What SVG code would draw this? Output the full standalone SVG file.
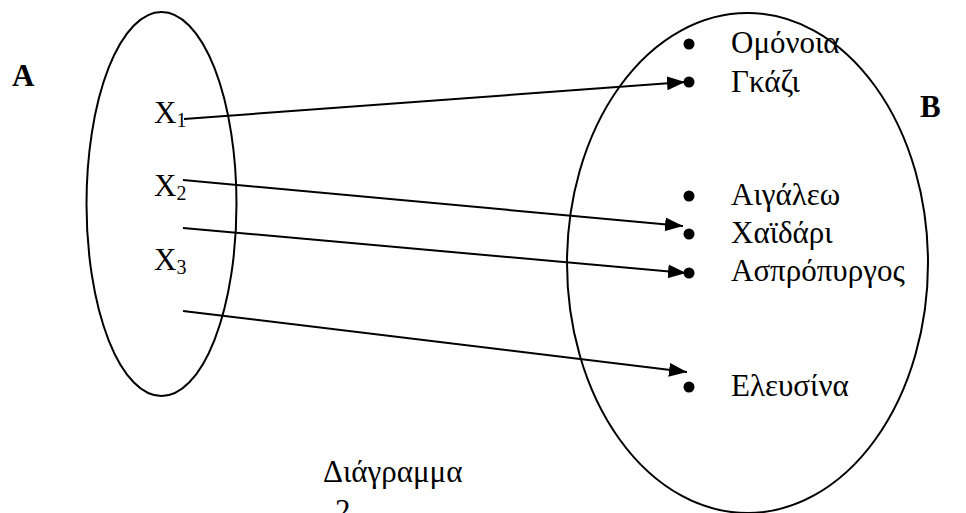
<svg xmlns="http://www.w3.org/2000/svg" width="966" height="513" viewBox="0 0 966 513">
<defs>
<style>
.t{font-family:"Liberation Serif","Times New Roman",serif;font-size:31px;fill:#000}
.b{font-weight:bold}
.sub{font-size:20px}
.set{fill:none;stroke:#000;stroke-width:2}
.dot{fill:#000}
.c{stroke:#000;stroke-width:2;fill:none}
</style>
<marker id="ah" markerUnits="userSpaceOnUse" markerWidth="20" markerHeight="16" refX="18" refY="7" orient="auto">
<path d="M0,0 L18,7 L0,14 Z" fill="#000"/>
</marker>
</defs>
<rect width="966" height="513" fill="#fff"/>
<g id="setA">
<ellipse class="set" cx="161.5" cy="204" rx="75" ry="192"/>
<text class="t b" x="12" y="86">A</text>
</g>
<g id="setB">
<ellipse class="set" cx="747.5" cy="263" rx="180.5" ry="250"/>
<text class="t b" x="920" y="117">B</text>
</g>
<g id="x1"><text class="t" x="154" y="123">X<tspan class="sub" dy="4">1</tspan></text></g>
<g id="x2"><text class="t" x="154" y="196">X<tspan class="sub" dy="4">2</tspan></text></g>
<g id="x3"><text class="t" x="154" y="270">X<tspan class="sub" dy="4">3</tspan></text></g>
<g id="omonoia"><circle class="dot" cx="689" cy="44" r="5.5"/><text class="t" x="731" y="53">Ομόνοια</text></g>
<g id="gkazi"><circle class="dot" cx="689" cy="82" r="5.5"/><text class="t" x="731" y="92">Γκάζι</text></g>
<g id="aigaleo"><circle class="dot" cx="689" cy="196" r="5.5"/><text class="t" x="731" y="205">Αιγάλεω</text></g>
<g id="chaidari"><circle class="dot" cx="689" cy="234" r="5.5"/><text class="t" x="731" y="243">Χαϊδάρι</text></g>
<g id="aspropyrgos"><circle class="dot" cx="689" cy="273" r="5.5"/><text class="t" x="731" y="281">Ασπρόπυργος</text></g>
<g id="elefsina"><circle class="dot" cx="689" cy="387" r="5.5"/><text class="t" x="731" y="396">Ελευσίνα</text></g>
<g id="caption"><text class="t" x="323" y="482">Διάγραμμα</text><text class="t" x="335" y="521">2</text></g>
<g id="connectors">
<line class="c" x1="184" y1="119" x2="685" y2="82" marker-end="url(#ah)"/>
<line class="c" x1="183" y1="180" x2="683" y2="226" marker-end="url(#ah)"/>
<line class="c" x1="183" y1="228" x2="686" y2="273" marker-end="url(#ah)"/>
<line class="c" x1="183" y1="311" x2="687" y2="372" marker-end="url(#ah)"/>
</g>
</svg>
